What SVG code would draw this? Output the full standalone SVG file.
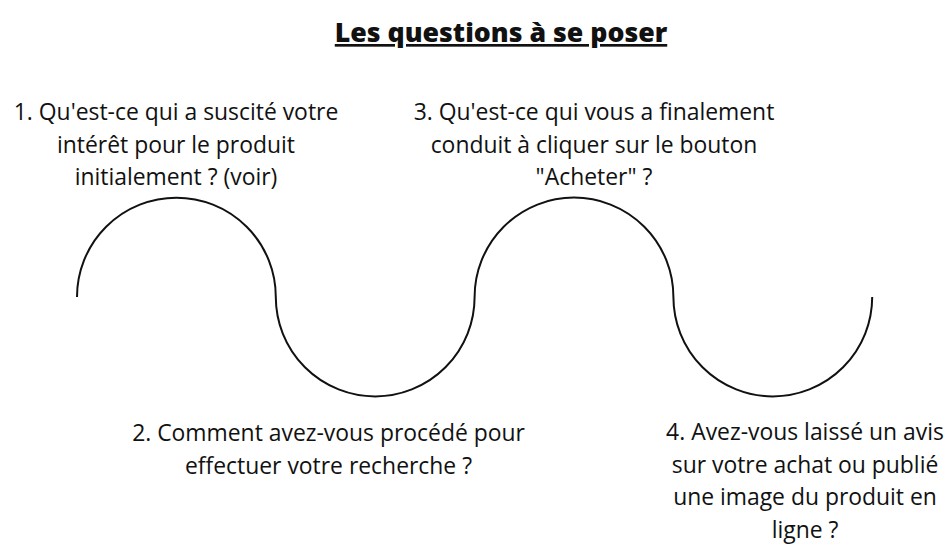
<svg xmlns="http://www.w3.org/2000/svg" width="952" height="547" viewBox="0 0 952 547">
<style>
.t{font-family:"Open Sans","Liberation Sans",sans-serif;font-size:22.9px;fill:#111;text-anchor:middle}
.title{font-family:"Open Sans","Liberation Sans",sans-serif;font-size:26.7px;font-weight:800;fill:#111;text-anchor:middle;text-decoration:underline}
.wave{fill:none;stroke:#111;stroke-width:2}
</style>
<rect width="952" height="547" fill="#fff"/>
<text class="title" x="501" y="42">Les questions à se poser</text>
<g id="connectors">
<path class="wave" d="M77,297 A99.4,99.4 0 0 1 275.8,297 A99.4,99.4 0 0 0 474.6,297 A99.4,99.4 0 0 1 673.4,297 A99.4,99.4 0 0 0 872.2,297"/>
</g>
<g id="q1">
<text class="t" x="176" y="120">1. Qu'est-ce qui a suscité votre</text>
<text class="t" x="176" y="152.5">intérêt pour le produit</text>
<text class="t" x="176" y="185">initialement ? (voir)</text>
</g>
<g id="q3">
<text class="t" x="594" y="120">3. Qu'est-ce qui vous a finalement</text>
<text class="t" x="594" y="152.5">conduit à cliquer sur le bouton</text>
<text class="t" x="594" y="185">"Acheter" ?</text>
</g>
<g id="q2">
<text class="t" x="328.5" y="441">2. Comment avez-vous procédé pour</text>
<text class="t" x="328.5" y="473.5">effectuer votre recherche ?</text>
</g>
<g id="q4">
<text class="t" x="805" y="440">4. Avez-vous laissé un avis</text>
<text class="t" x="805" y="472.5">sur votre achat ou publié</text>
<text class="t" x="805" y="505">une image du produit en</text>
<text class="t" x="805" y="537.5">ligne ?</text>
</g>
</svg>
